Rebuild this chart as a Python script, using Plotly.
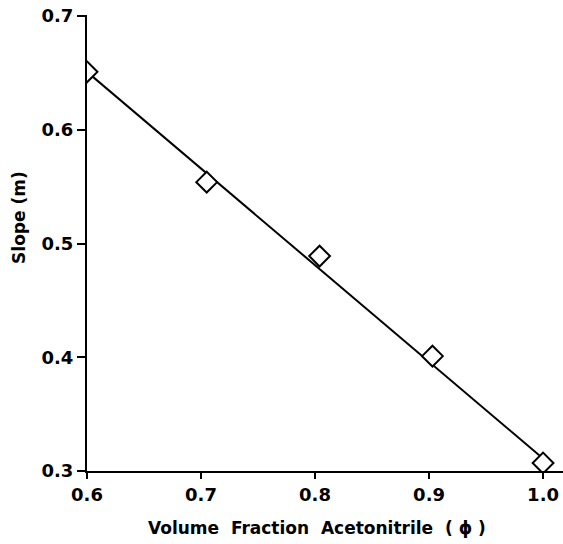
import plotly.graph_objects as go

# Data
phi = [0.600, 0.705, 0.804, 0.903, 1.0]
slope = [0.651, 0.554, 0.489, 0.401, 0.307]

# Fitted straight line (end points)
fit_phi = [0.6, 1.0]
fit_slope = [0.651, 0.311]

x_ticks = [0.6, 0.7, 0.8, 0.9, 1.0]
x_ticklabels = ["0.6", "0.7", "0.8", "0.9", "1.0"]
y_ticks = [0.3, 0.4, 0.5, 0.6, 0.7]
y_ticklabels = ["0.3", "0.4", "0.5", "0.6", "0.7"]

x_title = "Volume  Fraction  Acetonitrile  ( \u03d5 )"
y_title = "Slope (m)"

FONT = "DejaVu Sans"

fig = go.Figure()
fig.add_trace(go.Scatter(
    x=fit_phi, y=fit_slope, mode="lines",
    line=dict(color="black", width=2), showlegend=False, hoverinfo="skip",
))
fig.add_trace(go.Scatter(
    x=phi, y=slope, mode="markers", cliponaxis=True,
    marker=dict(symbol="diamond", size=16, color="white",
                line=dict(color="black", width=2)),
    showlegend=False,
))

fig.update_layout(
    width=563, height=544,
    margin=dict(l=87, r=0, t=15, b=73),
    paper_bgcolor="white", plot_bgcolor="white",
    font=dict(family=FONT, color="black", size=18),
)
fig.update_xaxes(
    range=[0.6, 1.0175], tickvals=x_ticks, ticktext=x_ticklabels,
    showline=True, linecolor="black", linewidth=2, mirror=False,
    ticks="outside", ticklen=6, tickwidth=2, tickcolor="black",
    showgrid=False, zeroline=False,
    tickfont=dict(family=FONT, size=18, weight="bold"),
)
fig.update_yaxes(
    range=[0.3, 0.701], tickvals=y_ticks, ticktext=y_ticklabels,
    showline=True, linecolor="black", linewidth=2, mirror=False,
    ticks="outside", ticklen=8, tickwidth=2, tickcolor="black",
    showgrid=False, zeroline=False,
    tickfont=dict(family=FONT, size=18, weight="bold"),
)

fig.add_annotation(
    text=x_title, xref="paper", yref="paper", x=0.484, y=-0.125,
    xanchor="center", yanchor="middle", showarrow=False,
    font=dict(family=FONT, size=17, weight="bold"),
)
fig.add_annotation(
    text=y_title, xref="paper", yref="paper", x=-0.143, y=0.557,
    xanchor="center", yanchor="middle", showarrow=False, textangle=-90,
    font=dict(family=FONT, size=17, weight="bold"),
)

fig.write_html("out.html")
